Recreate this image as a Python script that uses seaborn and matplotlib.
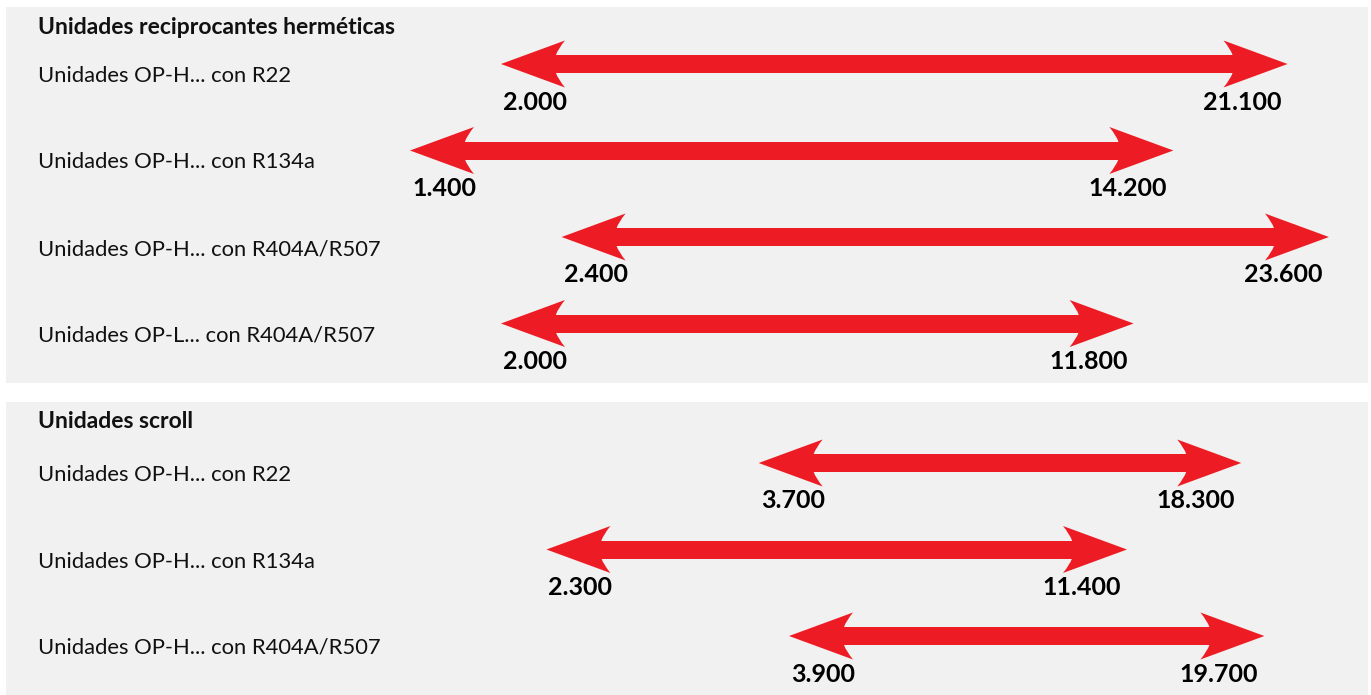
import numpy as np
import pandas as pd
import matplotlib
matplotlib.use("Agg")
import matplotlib.pyplot as plt
from matplotlib.path import Path
import seaborn as sns

# capacity ranges (W) per unit family
herm_title = "Unidades reciprocantes herméticas"
herm_labels = ["Unidades OP-H... con R22", "Unidades OP-H... con R134a",
               "Unidades OP-H... con R404A/R507", "Unidades OP-L... con R404A/R507"]
herm_min = [2000, 1400, 2400, 2000]
herm_max = [21100, 14200, 23600, 11800]

scroll_title = "Unidades scroll"
scroll_labels = ["Unidades OP-H... con R22", "Unidades OP-H... con R134a",
                 "Unidades OP-H... con R404A/R507"]
scroll_min = [3700, 2300, 3900]
scroll_max = [18300, 11400, 19700]

RED = "#ed1c24"
BG = "#f1f1f1"

# the original axis is squeezed above ~5000 W
BREAK = 5039.0
K = 0.1092
PX_PER_W = 0.1516   # px per W below the break
REF_W, REF_PX = 1400, 440

def fwd(v):
    v = np.asarray(v, dtype=float)
    return np.where(v <= BREAK, v, BREAK + (v - BREAK) * K)

def inv(u):
    u = np.asarray(u, dtype=float)
    return np.where(u <= BREAK, u, BREAK + (u - BREAK) / K)

def head(direction):
    # arrow head in pixels, origin where the shaft ends
    verts = np.array([(30, 0), (-34, 23.5), (-27, 15), (-25, 9), (-25, -9),
                      (-27, -15), (-34, -23.5), (30, 0)])
    verts[:, 0] *= direction
    codes = [Path.MOVETO, Path.LINETO, Path.CURVE3, Path.CURVE3, Path.LINETO,
             Path.CURVE3, Path.CURVE3, Path.CLOSEPOLY]
    return Path(verts, codes)

def fmt(v):
    return f"{v:,}".replace(",", ".")

sns.set_theme(style="white")
plt.rcParams['font.family'] = ['Lato', 'DejaVu Sans']

W, H = 1371, 695
fig = plt.figure(figsize=(W / 100, H / 100), dpi=100)
fig.patch.set_facecolor("white")

spacing = 86.5  # px between rows

def panel(rect_px, title, labels, lo, hi, first_row_px, title_px):
    x0, y0, w, h = rect_px
    ax = fig.add_axes([x0 / W, 1 - (y0 + h) / H, w / W, h / H])
    ax.set_facecolor(BG)
    ax.set_xscale("function", functions=(fwd, inv))

    rows = np.arange(len(labels))
    df = pd.DataFrame({
        "value": list(lo) + list(hi),
        "row": list(rows) + list(rows),
        "side": ["left"] * len(lo) + ["right"] * len(hi),
    })
    ax.hlines(rows, lo, hi, color=RED, linewidth=18 * 0.72, capstyle="butt")
    sns.scatterplot(data=df, x="value", y="row", style="side",
                    markers={"left": head(-1), "right": head(1)},
                    s=(68 * 0.72) ** 2, color=RED, linewidth=0,
                    edgecolor="none", legend=False, ax=ax)

    ax.set_xlim(inv(REF_W + (x0 - REF_PX) / PX_PER_W),
                inv(REF_W + (x0 + w - REF_PX) / PX_PER_W))
    top = -first_row_px / spacing
    ax.set_ylim(top + h / spacing, top)

    ax.annotate(title, xy=(0, 1), xycoords="axes fraction", xytext=(32, -title_px),
                textcoords="offset pixels", ha="left", va="center",
                fontsize=16.5, fontweight="bold", color="#111111")
    for r, lab, a, b in zip(rows, labels, lo, hi):
        ax.annotate(lab, xy=(0, r), xycoords=("axes fraction", "data"),
                    xytext=(32, -12), textcoords="offset pixels",
                    ha="left", va="center", fontsize=15.8, color="#111111")
        ax.annotate(fmt(a), xy=(a, r), xytext=(-28, -38), textcoords="offset pixels",
                    ha="left", va="center", fontsize=18, fontweight="bold", color="black")
        ax.annotate(fmt(b), xy=(b, r), xytext=(24, -38), textcoords="offset pixels",
                    ha="right", va="center", fontsize=18, fontweight="bold", color="black")

    ax.set_xlabel("")
    ax.set_ylabel("")
    ax.tick_params(which="both", length=0, labelbottom=False, labelleft=False)
    for s in ax.spines.values():
        s.set_visible(False)
    return ax

panel((6, 7, 1362, 376), herm_title, herm_labels, herm_min, herm_max, 57, 21)
panel((6, 402, 1362, 293), scroll_title, scroll_labels, scroll_min, scroll_max, 61, 19)

fig.savefig("out.png", dpi=100)
